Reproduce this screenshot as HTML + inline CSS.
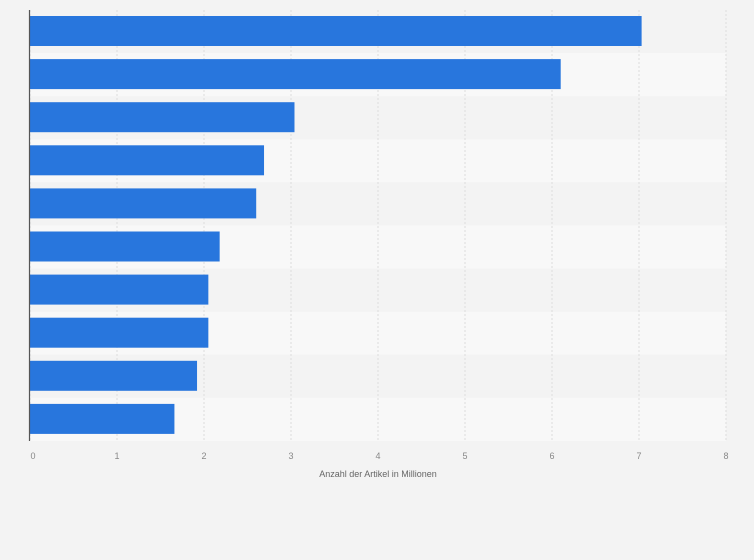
<!DOCTYPE html>
<html><head><meta charset="utf-8"><style>
body{margin:0;background:#f3f3f3;font-family:"Liberation Sans",sans-serif}
svg{display:block}
</style></head><body>
<svg id="c" width="754" height="560"></svg>
<script>
const categories=["A","B","C","D","E","F","G","H","I","J"];
const values=[7.03,6.1,3.04,2.69,2.6,2.18,2.05,2.05,1.92,1.66];
const ticks=[0,1,2,3,4,5,6,7,8];
const axisTitle="Anzahl der Artikel in Millionen";
const NS="http://www.w3.org/2000/svg";
const svg=document.getElementById('c');
const x0=30,x1=726,y0=10,y1=441;
const xs=v=>x0+(v/8)*(x1-x0);
const band=(y1-y0)/categories.length;
function mk(t,a,p){const e=document.createElementNS(NS,t);for(const k in a)e.setAttribute(k,a[k]);(p||svg).appendChild(e);return e;}
categories.forEach((c,i)=>{
  const r=mk('rect',{x:x0,y:y0+i*band,width:x1-x0,height:band,fill:i%2?'#f8f8f8':'#f3f3f3'});
  
  
});
ticks.forEach(t=>{
  const l=mk('line',{x1:xs(t),x2:xs(t),y1:y0,y2:y1,stroke:'#dcdcdc','stroke-dasharray':'2,2'});
  
  
  const tx=mk('text',{x:xs(t)+(t===0?3:0),y:459,'text-anchor':'middle','font-size':9,fill:'#888'});
  tx.textContent=t;
  
  
});
values.forEach((v,i)=>{
  const b=mk('rect',{x:x0,y:y0+i*band+6,width:xs(v)-x0,height:30,fill:'#2876dd'});
  
  
});
const ax=mk('line',{x1:29.5,x2:29.5,y1:y0,y2:y1,stroke:'#555','stroke-width':1.2});


const tt=mk('text',{x:378,y:477,'text-anchor':'middle','font-size':9,fill:'#666'});
tt.textContent=axisTitle;


</script>
</body></html>
